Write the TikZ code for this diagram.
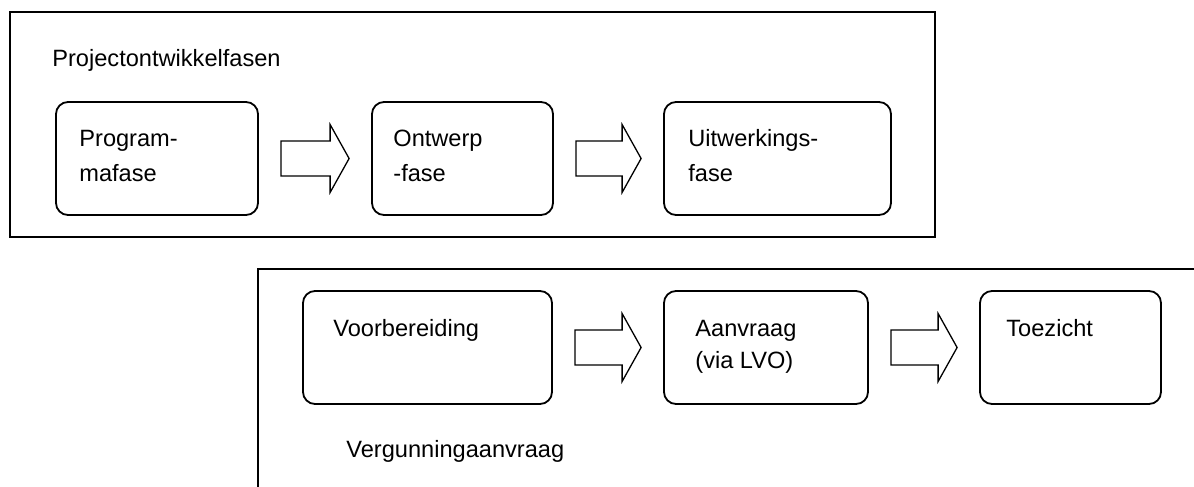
\documentclass[tikz,border=0pt]{standalone}
\usepackage{fontspec}
\setmainfont{Liberation Sans}
\usetikzlibrary{calc}

\tikzset{
  frameline/.style={line width=1pt, draw=black},
  phasebox/.style={draw=black, line width=0.9pt, rounded corners=6pt,
    rectangle, inner sep=0pt, minimum height=56.5pt},
  txt/.style={inner sep=0pt, anchor=base west,
    font=\fontsize{11.8pt}{14pt}\selectfont},
  blockarrow/.style={draw=black, line width=0.65pt, line join=miter}
}

% hollow block arrow filling the gap between two boxes
\newcommand\blockarrow[2]{%
  \draw[blockarrow] let \p1=($(#1.east)+(11pt,0)$), \p2=($(#2.west)-(11pt,0)$) in
    (\x1,\y1+8.75pt) -- (\x2-9.5pt,\y1+8.75pt) -- (\x2-9.5pt,\y1+17pt)
    -- (\x2,\y1) -- (\x2-9.5pt,\y1-17pt) -- (\x2-9.5pt,\y1-8.75pt)
    -- (\x1,\y1-8.75pt) -- cycle;}

\begin{document}
\begin{tikzpicture}[x=0.5pt, y=-0.5pt]
  \useasboundingbox (0,0) rectangle (1194,487);

  % ---- project development phases ----
  \draw[frameline] (10,12) rectangle (935,237);
  \node[txt] (title1) at (52,66) {Projectontwikkelfasen};

  \node[phasebox, minimum width=101pt]   (b1) at (157,158.5) {};
  \node[phasebox, minimum width=90.5pt]  (b2) at (462.5,158.5) {};
  \node[phasebox, minimum width=113.5pt] (b3) at (777.5,158.5) {};

  \node[txt] (t1a) at (79,146) {Program-};
  \node[txt] (t1b) at (79,181) {mafase};
  \node[txt] (t2a) at (393,146) {Ontwerp};
  \node[txt] (t2b) at (393,181) {-fase};
  \node[txt] (t3a) at (688,146) {Uitwerkings-};
  \node[txt] (t3b) at (688,181) {fase};

  \blockarrow{b1}{b2}
  \blockarrow{b2}{b3}

  % ---- permit application ----
  \draw[frameline] (1200,269) -- (258,269) -- (258,495);

  \node[phasebox, minimum width=124.5pt] (b4) at (427.5,347.5) {};
  \node[phasebox, minimum width=102pt]   (b5) at (766,347.5) {};
  \node[phasebox, minimum width=90.5pt]  (b6) at (1070.5,347.5) {};

  \node[txt] (t4a) at (333,336) {Voorbereiding};
  \node[txt] (t5a) at (695,336) {Aanvraag};
  \node[txt] (t5b) at (695,368) {(via LVO)};
  \node[txt] (t6a) at (1006,336) {Toezicht};

  \blockarrow{b4}{b5}
  \blockarrow{b5}{b6}

  \node[txt] (title2) at (346,457) {Vergunningaanvraag};
\end{tikzpicture}
\end{document}
